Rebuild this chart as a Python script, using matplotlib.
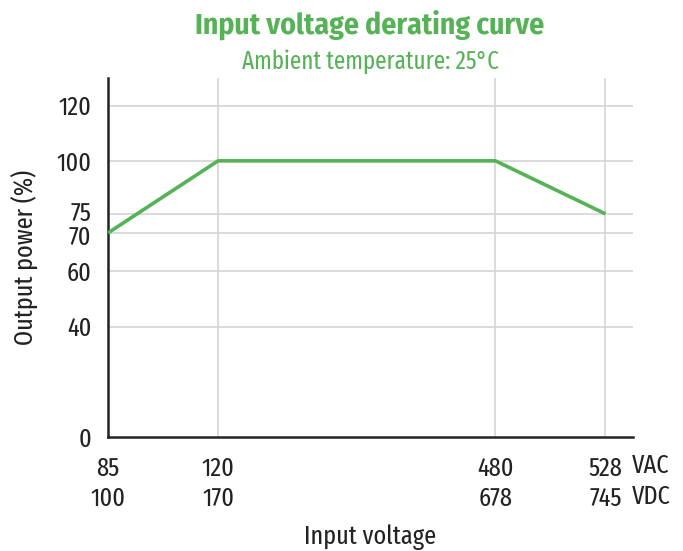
import matplotlib
matplotlib.use('Agg')
import matplotlib.pyplot as plt
import matplotlib.transforms as mtransforms
import numpy as np

# ---- data ----
vac = [85, 120, 480, 528]
vdc = [100, 170, 678, 745]
power = [70, 100, 100, 75]
yticks = [0, 40, 60, 70, 75, 100, 120]

title = "Input voltage derating curve"
subtitle = "Ambient temperature: 25°C"
xlabel = "Input voltage"
ylabel = "Output power (%)"

GREEN = '#56b257'
TXT = '#222222'
FONT = ['Fira Sans Extra Condensed', 'Fira Sans Condensed', 'DejaVu Sans']
plt.rcParams['font.family'] = FONT

# piecewise-linear display scales (the reference axes are not linear)
xk_data = [85, 120, 480, 528, 600]
xk_pos = [0, 1, 3.52, 4.52, 6.02]
yk_data = [0, 60, 70, 75, 100, 130]
yk_pos = [0, 60, 73.9, 80.8, 100, 130]

def fx(v):
    return np.interp(v, xk_data, xk_pos)
def ix(v):
    return np.interp(v, xk_pos, xk_data)
def fy(v):
    return np.interp(v, yk_data, yk_pos)
def iy(v):
    return np.interp(v, yk_pos, yk_data)

fig = plt.figure(figsize=(6.83, 5.51), dpi=100)
ax = fig.add_axes([108/683, 1-437/551, (633-108)/683, (437-78)/551])
ax.set_xscale('function', functions=(fx, ix))
ax.set_yscale('function', functions=(fy, iy))
ax.set_xlim(85, 540)
ax.set_ylim(0, 130)

ax.plot(vac, power, color=GREEN, lw=2.6, solid_capstyle='butt', zorder=3)

ax.set_yticks(yticks)
ax.set_yticklabels([str(t) for t in yticks])
ax.set_xticks(vac)
ax.set_xticklabels([f"{a}\n{d}" for a, d in zip(vac, vdc)], linespacing=1.25)
ax.tick_params(axis='both', length=0, labelsize=19, colors=TXT)
ax.tick_params(axis='y', pad=12)
ax.tick_params(axis='x', pad=14)

# nudge the close 75 / 70 labels apart slightly, as in the reference
for lab, val in zip(ax.get_yticklabels(), yticks):
    if val == 75:
        lab.set_transform(lab.get_transform() + mtransforms.ScaledTranslation(0, 3/100, fig.dpi_scale_trans))
    elif val == 70:
        lab.set_transform(lab.get_transform() + mtransforms.ScaledTranslation(0, -2/100, fig.dpi_scale_trans))

for t in yticks[1:]:
    ax.axhline(t, color='#d4d4d4', lw=1.2, zorder=1)
for v in vac[1:]:
    ax.axvline(v, color='#d4d4d4', lw=1.2, zorder=1)

for s in ['top', 'right']:
    ax.spines[s].set_visible(False)
for s in ['left', 'bottom']:
    ax.spines[s].set_color(TXT)
    ax.spines[s].set_linewidth(1.8)

fig.text(632/683, 1-466/551, "VAC", ha='left', va='center', fontsize=19, color=TXT)
fig.text(632/683, 1-497/551, "VDC", ha='left', va='center', fontsize=19, color=TXT)

fig.text(370/683, 1-537/551, xlabel, ha='center', va='center', fontsize=19, color=TXT)
fig.text(25/683, 1-257/551, ylabel, ha='center', va='center', rotation=90, fontsize=19, color=TXT)

fig.text(370/683, 1-25/551, title, ha='center', va='center', fontsize=21.3,
         fontweight='bold', color=GREEN, family=['Fira Sans Condensed', 'DejaVu Sans'])
fig.text(370/683, 1-62/551, subtitle, ha='center', va='center', fontsize=18, color=GREEN)

fig.savefig('out.png', dpi=100)
